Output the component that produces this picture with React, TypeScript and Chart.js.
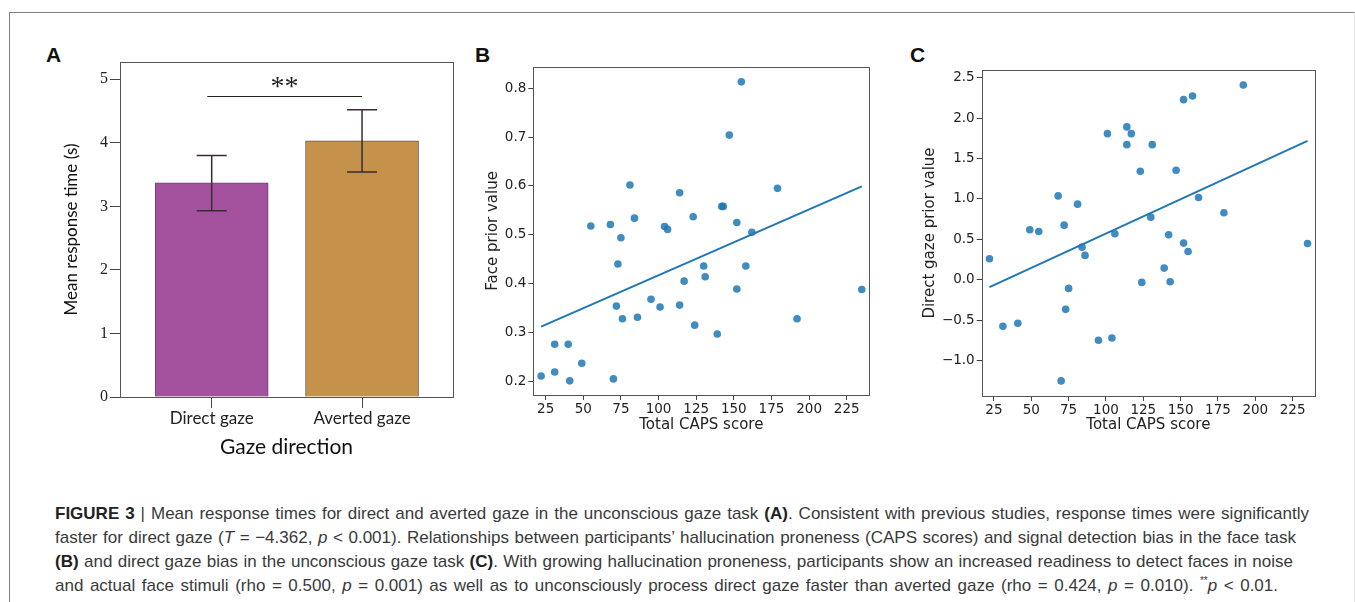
import React, { useEffect, useRef } from 'react';
import { Chart, registerables } from 'chart.js';

Chart.register(...registerables);

// ---------- Panel A data ----------
const gazeCategories = ['Direct gaze', 'Averted gaze'];
const gazePositions = [1, 2];
const meanResponse = [3.37, 4.03];
const errUpper = [3.8, 4.52];
const errLower = [2.93, 3.54];
const sigFrom = 0.97;
const sigTo = 2;
const sigLevel = 4.73;
const sigLabel = '**';
const responseTicks = [0, 1, 2, 3, 4, 5];
const barColors = ['#a5529e', '#c4924b'];
const barBorders = ['#6e3f86', '#6b5a45'];

// ---------- Panel B data ----------
const capsB = [22, 31, 31, 40, 41, 49, 55, 68, 70, 72, 73, 75, 76, 81, 84, 86, 95, 101, 104, 106, 114, 114, 117, 123, 124, 130, 131, 139, 142, 143, 147, 152, 152, 155, 158, 162, 179, 192, 235];
const facePrior = [0.211, 0.276, 0.219, 0.276, 0.201, 0.237, 0.518, 0.521, 0.205, 0.354, 0.44, 0.494, 0.328, 0.602, 0.534, 0.331, 0.368, 0.352, 0.517, 0.511, 0.586, 0.356, 0.405, 0.537, 0.315, 0.436, 0.414, 0.297, 0.558, 0.558, 0.704, 0.525, 0.389, 0.813, 0.436, 0.505, 0.595, 0.328, 0.388];
const faceFitX = [22, 235];
const faceFitY = [0.312, 0.599];
const faceTicks = [0.2, 0.3, 0.4, 0.5, 0.6, 0.7, 0.8];

// ---------- Panel C data ----------
const capsC = [22, 31, 41, 49, 55, 68, 70, 72, 73, 75, 81, 84, 86, 95, 101, 104, 106, 114, 114, 117, 123, 124, 130, 131, 139, 142, 143, 147, 152, 152, 155, 158, 162, 179, 192, 235];
const gazePrior = [0.26, -0.575, -0.538, 0.619, 0.598, 1.038, -1.25, 0.676, -0.365, -0.106, 0.936, 0.404, 0.302, -0.748, 1.808, -0.719, 0.569, 1.891, 1.672, 1.808, 1.343, -0.032, 0.775, 1.672, 0.145, 0.557, -0.024, 1.355, 2.228, 0.454, 0.351, 2.274, 1.018, 0.829, 2.409, 0.45];
const gazeFitX = [22, 235];
const gazeFitY = [-0.09, 1.718];
const gazeTicks = [-1.0, -0.5, 0.0, 0.5, 1.0, 1.5, 2.0, 2.5];

const capsTicks = [25, 50, 75, 100, 125, 150, 175, 200, 225];

const boxPlugin = {
  id: 'boxFrame',
  afterDraw(chart: any) {
    const { ctx, chartArea: a } = chart;
    ctx.save();
    ctx.strokeStyle = '#555';
    ctx.lineWidth = 1;
    const l = Math.round(a.left) + 0.5;
    const t = Math.round(a.top) + 0.5;
    const r = Math.round(a.right) + 0.5;
    const b = Math.round(a.bottom) + 0.5;
    ctx.strokeRect(l, t, r - l, b - t);
    ctx.restore();
  },
};

const errorPlugin = {
  id: 'errorBars',
  afterDatasetsDraw(chart: any) {
    const { ctx, scales } = chart;
    const xs = scales.x;
    const ys = scales.y;
    ctx.save();
    ctx.strokeStyle = '#3a2a35';
    ctx.lineWidth = 1.5;
    gazePositions.forEach((p, i) => {
      const px = xs.getPixelForValue(p);
      const yt = ys.getPixelForValue(errUpper[i]);
      const yb = ys.getPixelForValue(errLower[i]);
      ctx.beginPath();
      ctx.moveTo(px, yt);
      ctx.lineTo(px, yb);
      ctx.moveTo(px - 15, yt);
      ctx.lineTo(px + 15, yt);
      ctx.moveTo(px - 15, yb);
      ctx.lineTo(px + 15, yb);
      ctx.stroke();
    });
    // significance bracket
    const x1 = xs.getPixelForValue(sigFrom);
    const x2 = xs.getPixelForValue(sigTo);
    const yl = Math.round(ys.getPixelForValue(sigLevel)) + 0.5;
    ctx.strokeStyle = '#222';
    ctx.lineWidth = 1;
    ctx.beginPath();
    ctx.moveTo(x1, yl);
    ctx.lineTo(x2, yl);
    ctx.stroke();
    ctx.fillStyle = '#222';
    ctx.font = "28px 'Liberation Serif'";
    ctx.textAlign = 'center';
    ctx.textBaseline = 'alphabetic';
    ctx.fillText(sigLabel, (x1 + x2) / 2, yl - 2);
    ctx.restore();
  },
};

const tickFont = { family: "'DejaVu Sans'", size: 13.5 };
const titleFont = { family: "'DejaVu Sans'", size: 15 };

function fmt(v: number) {
  return v.toFixed(1).replace('-', '\u2212');
}

function makeScatter(
  canvas: HTMLCanvasElement,
  xs: number[],
  ys: number[],
  fitX: number[],
  fitY: number[],
  yTicks: number[],
  yMin: number,
  yMax: number,
  yTitle: string,
  pad: { left: number; top: number; right: number; bottom: number },
  yWidth: number,
  xHeight: number
) {
  return new Chart(canvas, {
    type: 'scatter',
    data: {
      datasets: [
        {
          type: 'line',
          data: fitX.map((x, i) => ({ x, y: fitY[i] })),
          borderColor: '#1f77b4',
          borderWidth: 2,
          pointRadius: 0,
          showLine: true,
          fill: false,
        } as any,
        {
          data: xs.map((x, i) => ({ x, y: ys[i] })),
          backgroundColor: 'rgba(31,119,180,0.85)',
          borderWidth: 0,
          pointRadius: 3.8,
        },
      ],
    },
    options: {
      animation: false,
      responsive: false,
      events: [],
      layout: { padding: pad },
      plugins: { legend: { display: false }, tooltip: { enabled: false } },
      scales: {
        x: {
          type: 'linear',
          min: 16.8,
          max: 240,
          afterBuildTicks: (s: any) => {
            s.ticks = capsTicks.map((v) => ({ value: v }));
          },
          afterFit: (s: any) => {
            s.height = xHeight;
          },
          grid: { drawOnChartArea: false, tickLength: 5, color: '#444', tickColor: '#444' },
          border: { display: false },
          ticks: { font: tickFont, color: '#222', padding: 1, maxRotation: 0, autoSkip: false, callback: (v: any) => String(v) },
          title: { display: true, text: 'Total CAPS score', font: titleFont, color: '#222', padding: 0 },
        },
        y: {
          type: 'linear',
          min: yMin,
          max: yMax,
          afterBuildTicks: (s: any) => {
            s.ticks = yTicks.map((v) => ({ value: v }));
          },
          afterFit: (s: any) => {
            s.width = yWidth;
          },
          grid: { drawOnChartArea: false, tickLength: 5, color: '#444', tickColor: '#444' },
          border: { display: false },
          ticks: { font: tickFont, color: '#222', padding: 2, autoSkip: false, callback: (v: any) => fmt(Number(v)) },
          title: { display: true, text: yTitle, font: titleFont, color: '#222', padding: 0 },
        },
      },
    },
    plugins: [boxPlugin],
  } as any);
}

export default function App() {
  const refA = useRef<HTMLCanvasElement>(null);
  const refB = useRef<HTMLCanvasElement>(null);
  const refC = useRef<HTMLCanvasElement>(null);

  useEffect(() => {
    const charts: Chart[] = [];
    if (refA.current) {
      charts.push(
        new Chart(refA.current, {
          type: 'bar',
          data: {
            datasets: [
              {
                data: gazePositions.map((x, i) => ({ x, y: meanResponse[i] })),
                backgroundColor: barColors,
                borderColor: barBorders,
                borderWidth: 1,
                barThickness: 113,
              },
            ],
          },
          options: {
            animation: false,
            responsive: false,
            events: [],
            layout: { padding: { left: 41.5, top: 32, right: 7, bottom: 9.7 } },
            plugins: { legend: { display: false }, tooltip: { enabled: false } },
            scales: {
              x: {
                type: 'linear',
                min: 0.39,
                max: 2.605,
                offset: false,
                afterBuildTicks: (s: any) => {
                  s.ticks = gazePositions.map((v) => ({ value: v }));
                },
                afterFit: (s: any) => {
                  s.height = 63.3;
                },
                grid: { offset: false, drawOnChartArea: false, tickLength: 11, color: '#444', tickColor: '#444' },
                border: { display: false },
                ticks: {
                  font: { family: 'Lato', size: 17 },
                  color: '#222',
                  padding: 0,
                  maxRotation: 0,
                  autoSkip: false,
                  callback: (v: any) => gazeCategories[gazePositions.indexOf(Number(v))] ?? '',
                },
                title: { display: true, text: 'Gaze direction', font: { family: 'Lato', size: 21 }, color: '#111', padding: 0 },
              },
              y: {
                type: 'linear',
                min: 0,
                max: 5.27,
                afterBuildTicks: (s: any) => {
                  s.ticks = responseTicks.map((v) => ({ value: v }));
                },
                afterFit: (s: any) => {
                  s.width = 58.5;
                },
                grid: { drawOnChartArea: false, tickLength: 10, color: '#444', tickColor: '#444' },
                border: { display: false },
                ticks: { font: { family: "'Liberation Serif'", size: 16 }, color: '#222', padding: 2, autoSkip: false },
                title: { display: true, text: 'Mean response time (s)', font: { family: 'Lato', size: 17 }, color: '#111', padding: 0 },
              },
            },
          },
          plugins: [boxPlugin, errorPlugin],
        } as any)
      );
    }
    if (refB.current) {
      charts.push(
        makeScatter(refB.current, capsB, facePrior, faceFitX, faceFitY, faceTicks, 0.172, 0.844, 'Face prior value',
          { left: 44.3, top: 26.7, right: 30.7, bottom: 26 }, 49, 39)
      );
    }
    if (refC.current) {
      charts.push(
        makeScatter(refC.current, capsC, gazePrior, gazeFitX, gazeFitY, gazeTicks, -1.437, 2.595, 'Direct gaze prior value',
          { left: 21, top: 30, right: 40, bottom: 26 }, 60.7, 38)
      );
    }
    return () => charts.forEach((c) => c.destroy());
  }, []);

  const panelLabel = (text: string, left: number): React.ReactNode => (
    <div
      style={{
        position: 'absolute',
        left,
        top: 44,
        fontFamily: "'Liberation Sans', Arial, sans-serif",
        fontWeight: 'bold',
        fontSize: 21,
        lineHeight: '21px',
        color: '#111',
      }}
    >
      {text}
    </div>
  );

  const lineStyle = (w: number): React.CSSProperties => ({
    width: w,
    height: 24,
    lineHeight: '24px',
    textAlign: 'justify',
    textAlignLast: 'justify' as any,
  });

  return (
    <div
      style={{
        position: 'absolute',
        left: 0,
        top: 0,
        width: 1355,
        height: 602,
        background: '#fff',
        overflow: 'hidden',
      }}
    >
      <div
        style={{
          position: 'absolute',
          left: 9,
          top: 12,
          width: 1344,
          height: 600,
          borderTop: '1px solid #808080',
          borderLeft: '1px solid #808080',
          borderRight: '1px solid #e2e2e2',
        }}
      />
      {panelLabel('A', 46)}
      {panelLabel('B', 475)}
      {panelLabel('C', 910)}
      <canvas ref={refA} width={440} height={440} style={{ position: 'absolute', left: 20, top: 30, width: 440, height: 440 }} />
      <canvas ref={refB} width={460} height={420} style={{ position: 'absolute', left: 440, top: 40, width: 460, height: 420 }} />
      <canvas ref={refC} width={455} height={420} style={{ position: 'absolute', left: 900, top: 40, width: 455, height: 420 }} />
      <div
        style={{
          position: 'absolute',
          left: 55,
          top: 502,
          fontFamily: "'Liberation Sans', Arial, sans-serif",
          fontSize: 17,
          color: '#3a3a3a',
        }}
      >
        <div style={lineStyle(1254)}>
          <b style={{ color: '#222' }}>FIGURE 3</b> | Mean response times for direct and averted gaze in the unconscious gaze task{' '}
          <b style={{ color: '#222' }}>(A)</b>. Consistent with previous studies, response times were significantly
        </div>
        <div style={lineStyle(1241)}>
          faster for direct gaze (<i>T</i> = −4.362, <i>p</i> &lt; 0.001). Relationships between participants’ hallucination proneness (CAPS scores) and signal detection bias in the face task
        </div>
        <div style={lineStyle(1238)}>
          <b style={{ color: '#222' }}>(B)</b> and direct gaze bias in the unconscious gaze task <b style={{ color: '#222' }}>(C)</b>. With growing hallucination proneness, participants show an increased readiness to detect faces in noise
        </div>
        <div style={lineStyle(1223)}>
          and actual face stimuli (rho = 0.500, <i>p</i> = 0.001) as well as to unconsciously process direct gaze faster than averted gaze (rho = 0.424, <i>p</i> = 0.010).{' '}
          <sup style={{ fontSize: 10, lineHeight: 0 }}>**</sup>
          <i>p</i> &lt; 0.01.
        </div>
      </div>
    </div>
  );
}
